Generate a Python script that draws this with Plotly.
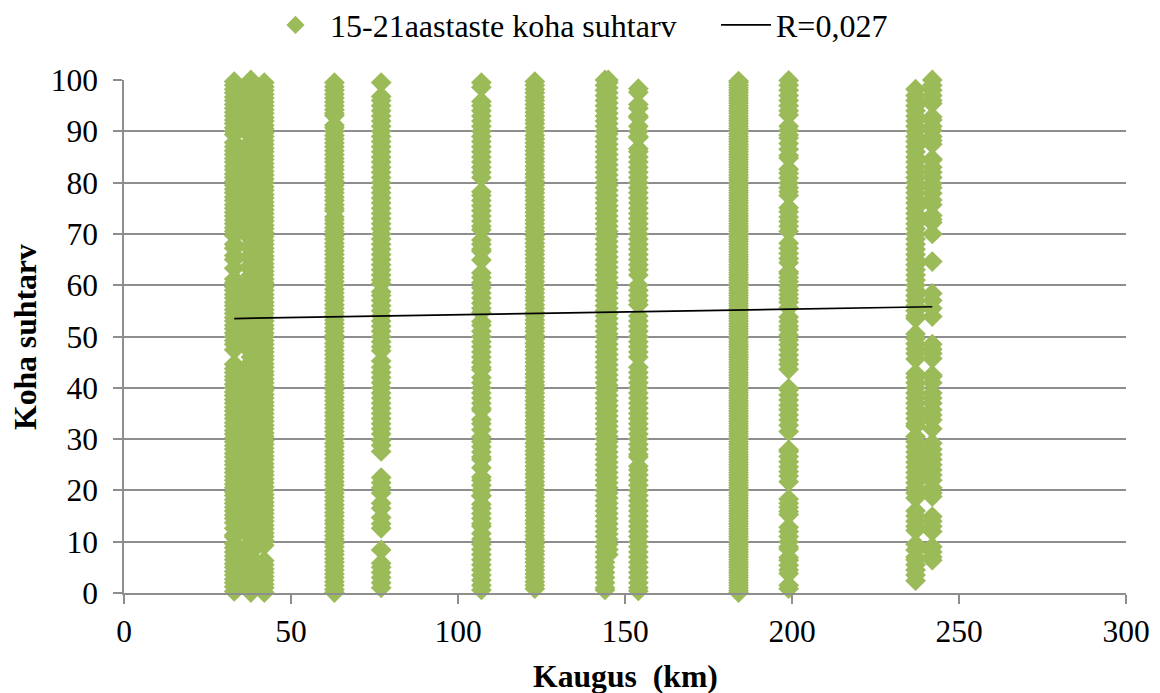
import plotly.graph_objects as go

# Column distance (km) -> values of "koha suhtarv"
km_33 = [99.7,99,98.2,97.5,96.7,96,95.2,94.5,93.7,93,92.2,91.5,90.7,90,89.4,87.8,87,86.2,85.5,84.7,84,83.2,82.5,81.7,81,80.2,79.5,78.7,78,77.2,76.5,75.7,75,74.2,73.5,72.7,72,71.2,70.5,69.7,68,67.2,65.8,65,63.3,61.2,60.5,59.7,59,58.2,57.5,56.7,56,55.2,54.5,53.7,53,52.2,51.5,50.7,50,49.2,48.5,47.4,44.6,43.7,43,42.2,41.5,40.7,40,39.2,38.5,37.7,37,36.2,35.5,34.7,34,33.2,32.5,31.7,31,30.2,29.5,28.7,28,27.2,26.5,25.7,25,24.2,23.5,22.7,22,21.2,20.5,19.7,19,18.2,17.5,16.7,16,15.2,14.5,13.7,12.6,11.3,10.9,9.6,8.8,8,7.2,6.5,5.7,5,4.2,3.5,2.7,2,1.2,0.3]
km_38 = [100,99,98,97,96,95,94,93,92,91,90,89,88,87,86,85,84,83,82,81,80,79,78,77,76,75,74,73,72,71,70,69,68,67,66,65,64,63,62,61,60,59,58,57,56,55,54,53,52,51,50,49,48,47,46,45,44,43,42,41,40,39,38,37,36,35,34,33,32,31,30,29,28,27,26,25,24,23,22,21,20,19,18,17,16,15,14,13,12,11,10,9,8,7,6,5,4,3,2,1,0.1]
km_42 = [99.5,98.7,98,97.2,96.5,95.7,95,94.2,93.5,92.7,92,91.2,90.5,89.7,89,88.2,87.5,86.7,86,85.2,84.5,83.7,83,82.2,81.5,80.7,80,79.2,78.5,77.7,77,76.2,75.5,74.7,74,73.2,72.5,71.7,71,70.2,69.5,68.7,68,67.2,66.5,65.7,65,64.2,63.5,62.7,62,61.2,60.5,59.7,59,58.2,57.5,56.7,56,55.2,54.5,53.7,53,52.2,51.5,50.7,50,49.2,48.5,47.7,47,46.2,45.5,44.7,44,43.2,42.5,41.7,41,40.2,39.5,38.7,38,37.2,36.5,35.7,35,34.2,33.5,32.7,32,31.2,30.5,29.7,29,28.2,27.5,26.7,26,25.2,24.5,23.7,23,22.2,21.5,20.7,20,19.2,18.5,17.7,17,16.2,15.5,14.7,14,13.2,12.5,11.7,11,10.2,9.3,6.3,5.5,4.7,4,3.2,2.5,1.7,1,0.1]
km_63 = [99.5,98.7,98,97.2,96.5,95.7,95,94.2,93.5,93.1,91.2,90.7,90,89.2,88.5,87.7,87,86.2,85.5,84.7,84,83.2,82.5,81.7,81,80.2,79.5,78.7,78,77.2,76.5,75.7,75,74.5,73.3,72.7,72,71.2,70.5,69.7,69,68.2,67.5,66.7,66,65.2,64.5,63.7,63,62.2,61.5,60.7,60,59.2,58.5,57.7,57,56.2,55.5,54.7,54,53.2,52.5,51.7,51,50.2,49.5,48.7,48,47.2,46.5,45.7,45,44.2,43.5,42.7,42,41.2,40.5,39.7,39,38.2,37.5,36.7,36,35.2,34.5,33.7,33,32.2,31.5,30.7,30,29.2,28.5,27.7,27,26.2,25.5,24.7,24,23.2,22.5,21.7,21,20.2,19.5,18.7,18,17.2,16.5,15.7,15,14.2,13.5,12.7,12,11.2,10.5,9.7,9,8.2,7.5,6.7,6,5.2,4.5,3.7,3,2.2,1.5,0.7,0.1]
km_77 = [99.5,96.8,96,95,94,93,92,91,90,89,88,87,86,85,84,83,82,81,80,79,78,77,76,75,74,73,72,71,70,69,68,67,66,65,64,63,62,61,60.3,58.7,58,57,56,55,54,53,52,51,50,49,48,47.2,45.2,44,43,42,41,40,39,38,37,36,35,34,33,32,31,29.8,28.8,27.6,22.5,21.5,20.5,19.5,17.5,16.5,14.7,13.5,12.6,8.4,5.8,5,4,3,2,1]
km_107 = [99.5,98.6,95.8,95,94,93,92,91,90,89,88,87,86,85,84,83,82,81,78.2,77.5,76.5,75.5,74.5,73.5,72.5,71.5,70.8,68.8,68,67,66.6,64.9,62.4,61.5,60.5,59.5,58.5,57.5,56.5,55.5,54.7,52.9,52.2,51,50,49,48,47,46,45,44,43.5,42,41,40,39,38,37,36,35.6,33.8,33,31.8,30.4,29.5,28.5,27.5,26.5,26,24.4,22.6,22,21,20,19,18.9,17.3,16.5,15.5,14.5,13.5,13,11.6,10.5,9.5,8.5,7.5,6.5,5.5,4.5,3.5,2.5,1.5,0.6]
km_123 = [99.7,99,98.2,97.5,96.7,96,95.2,94.5,93.7,93,92.2,91.5,90.7,90,89.2,88.5,87.7,87,86.2,85.5,84.7,84,83.2,82.5,81.7,81,80.2,79.5,78.7,78,77.2,76.5,75.7,75,74.2,73.5,72.7,72,71.2,70.5,69.7,69,68.2,67.5,66.7,66,65.2,64.5,63.7,63,62.2,61.5,60.7,60,59.2,58.5,57.7,57,56.2,55.5,54.7,54,53.2,52.5,51.7,51,50.2,49.5,48.7,48,47.2,46.5,45.7,45,44.2,43.5,42.7,42,41.2,40.5,39.7,39,38.2,37.5,36.7,36,35.2,34.5,33.7,33,32.2,31.5,30.7,30,29.2,28.5,27.7,27,26.2,25.5,24.7,24,23.2,22.5,21.7,21,20.2,19.5,18.7,18,17.2,16.5,15.7,15,14.2,13.5,12.7,12,11.2,10.5,9.7,9,8.2,7.5,6.7,6,5.2,4.5,3.7,3,2.2,1.5,0.85]
km_144 = [100,99,98,97,96,95,94,93,92,91,90,89,88,87,86,85,84,83,82,81,80,79,78,77,76,75,74,73,72,71,70,69,68,67,66,65,64,63,62,61,60,59,58,57,56,55,54,53,52,51,50,49,48,47,46,45,44,43,42,41,40,39,38,37,36,35,34,33,32,31,30,29,28,27,26,25,24,23,22,21,20,19,18,17,16,15,14,13,12,11,10,9,8,7,6,5,4,3,2,1,0.6]
km_145 = [100,99.5,98.5,97.5,96.5,95.5,94.5,93.5,92.5,91.5,90.5,89.5,88.5,87.5,86.5,85.5,84.5,83.5,82.5,81.5,80.5,79.5,78.5,77.5,76.5,75.5,74.5,73.5,72.5,71.5,70.5,69.5,68.5,67.5,66.5,65.5,64.5,63.5,62.5,61.5,60.5,59.5,58.5,57.5,56.5,55.5,54.5,53.5,52.5,51.5,50.5,49.5,48.5,47.5,46.5,45.5,44.5,43.5,42.5,41.5,40.5,39.5,38.5,37.5,36.5,35.5,34.5,33.5,32.5,31.5,30.5,29.5,28.5,27.5,26.5,25.5,24.5,23.5,22.5,21.5,20.5,19.5,18.5,17.5,16.5,15.5,14.5,13.5,12.5,11.5,10.5,9.5,8.5,7.5]
km_154 = [98.3,97.6,95.2,94.5,93,92.7,91,90,89,88.8,86.6,86,85,84,83,82,81,80,79,78,77,76,75,74,73,72,71,70,69,68,67,66,65,64,63,62,60,59,58,57,56.2,54,53,52,51,50,49,48,47,46,44,43,42,41,40,39,38,37,36,35,34,33,32,31,30,29,28,27,26.5,24.7,24,23,22,21,20,19,18,17,16,15,14,13,12,11,10,9,8,7,6,5,4,3,2,1,0.4]
km_184 = [99.8,99.5,99,98.5,98,97.5,97,96.5,96,95.5,95,94.5,94,93.5,93,92.5,92,91.5,91,90.5,90,89.5,89,88.5,88,87.5,87,86.5,86,85.5,85,84.5,84,83.5,83,82.5,82,81.5,81,80.5,80,79.5,79,78.5,78,77.5,77,76.5,76,75.5,75,74.5,74,73.5,73,72.5,72,71.5,71,70.5,70,69.5,69,68.5,68,67.5,67,66.5,66,65.5,65,64.5,64,63.5,63,62.5,62,61.5,61,60.5,60,59.5,59,58.5,58,57.5,57,56.5,56,55.5,55,54.5,54,53.5,53,52.5,52,51.5,51,50.5,50,49.5,49,48.5,48,47.5,47,46.5,46,45.5,45,44.5,44,43.5,43,42.5,42,41.5,41,40.5,40,39.5,39,38.5,38,37.5,37,36.5,36,35.5,35,34.5,34,33.5,33,32.5,32,31.5,31,30.5,30,29.5,29,28.5,28,27.5,27,26.5,26,25.5,25,24.5,24,23.5,23,22.5,22,21.5,21,20.5,20,19.5,19,18.5,18,17.5,17,16.5,16,15.5,15,14.5,14,13.5,13,12.5,12,11.5,11,10.5,10,9.5,9,8.5,8,7.5,7,6.5,6,5.5,5,4.5,4,3.5,3,2.5,2,1.5,1,0.5,0.1]
km_199 = [99.9,99,98,97,96,95,94,93.2,91,90.2,89.3,88.7,87.6,86.5,85.3,84.8,82.6,81.8,80.9,79.9,79,78.2,77.5,75.1,74.3,73.3,72.4,71.5,70.5,68.2,67.2,66.2,65.2,64.4,62.6,62.3,61.5,60.7,59.8,59,58.2,57.4,56.7,55.6,53.8,52.9,52,51.3,50.3,49.3,48.4,47.4,46.4,45.4,44.6,43.6,39.9,39.6,38.6,37.6,36.6,35.7,34.7,33.7,32.7,31.5,27.9,27.6,26.6,25.6,24.6,23.7,22.8,21.7,18.3,17.5,16.7,15.9,15.3,12.8,12,11,10,9,8.6,6.9,6.4,5.4,4.5,3.8,1.5,0.85]
km_237 = [98.2,97,96,95,94,93,92,91,90,89,88,87,86,85,84,83,82,81,80,79,78,77,76,75,74,73,72,71,70,69,68,67,66,65,64,63,62,61,60,59,58,57,56,55,54,53.5,50.5,49.6,48.6,47.6,46.7,45.6,42.8,42,41,40,39,38,37,36,35,34,33,32.5,30.5,29.5,28.5,27.5,26.5,25.5,24.5,23.5,22.5,21.5,20.5,19.5,18.5,16,15,14,13,12.2,9.5,8.4,7,6.5,5.5,4.5,3.5,2.4]
km_242 = [100,99,98,97,96,95.4,92.8,92.2,91,90.2,89,88.2,87.5,84.6,84.4,83,82,81,79.8,79,77.9,76.6,75.7,73.6,72.8,72.2,70,64.6,58.4,57,55.5,53.9,48.5,47.5,46.7,45.7,42.5,42.2,41,39,38,37,35.7,34.7,33.7,32,29.2,28,27,26,25,24,23,22,20.5,19.5,18.8,14.9,14,13,12,9,8,7,6.4]

columns = [33, 38, 42, 63, 77, 107, 123, 144, 145, 154, 184, 199, 237, 242]
values = [km_33, km_38, km_42, km_63, km_77, km_107, km_123, km_144, km_145, km_154, km_184, km_199, km_237, km_242]

trend_x = [33, 242]
trend_y = [53.5, 55.8]

x_vals = [c for c, v in zip(columns, values) for _ in v]
y_vals = [y for v in values for y in v]

GREEN = "#9BBB59"
GRID = "#8e8e8e"
FONT = "Liberation Serif"

fig = go.Figure()
fig.add_trace(go.Scatter(x=x_vals, y=y_vals, mode="markers", showlegend=False, cliponaxis=False,
                         marker=dict(symbol="diamond", size=16, color=GREEN, line=dict(width=0))))
fig.add_trace(go.Scatter(x=[None], y=[None], mode="markers", name="15-21aastaste koha suhtarv",
                         marker=dict(symbol="diamond", size=14, color=GREEN, line=dict(width=0))))
fig.add_trace(go.Scatter(x=trend_x, y=trend_y, mode="lines", name="R=0,027", cliponaxis=False,
                         legend="legend2", line=dict(color="black", width=1.75)))

legend_common = dict(orientation="h", xanchor="left", xref="container", yref="container",
                     y=0.975, yanchor="middle", font=dict(family=FONT, size=32), bgcolor="rgba(0,0,0,0)")

fig.update_layout(
    width=1152, height=685, autosize=False,
    margin=dict(l=116, r=34, t=72, b=100, autoexpand=False),
    paper_bgcolor="white", plot_bgcolor="white",
    font=dict(family=FONT, size=31.5, color="black"),
    legend=dict(x=0.2196, itemwidth=59, **legend_common),
    legend2=dict(x=0.6146, itemwidth=50, **legend_common),
    xaxis=dict(range=[0, 300], tick0=0, dtick=50, ticks="outside", ticklen=9, tickwidth=1.5,
               tickcolor=GRID, showline=True, linecolor=GRID, linewidth=1.5,
               showgrid=False, zeroline=False),
    yaxis=dict(range=[0, 100], tick0=0, dtick=10, ticks="outside", ticklen=9, tickwidth=1.5,
               tickcolor=GRID, showline=True, linecolor=GRID, linewidth=1.5, ticklabelstandoff=9,
               showgrid=True, gridcolor=GRID, gridwidth=1.5, zeroline=False),
    annotations=[
        dict(text="<b>Kaugus  (km)</b>", xref="paper", yref="paper", x=0.5, y=-0.1637,
             xanchor="center", yanchor="middle", showarrow=False, font=dict(family=FONT, size=31.7)),
        dict(text="<b>Koha suhtarv</b>", xref="paper", yref="paper", x=-0.0988, y=0.499,
             xanchor="center", yanchor="middle", textangle=-90, showarrow=False,
             font=dict(family=FONT, size=31.7)),
    ],
)
fig.write_html("out.html")
